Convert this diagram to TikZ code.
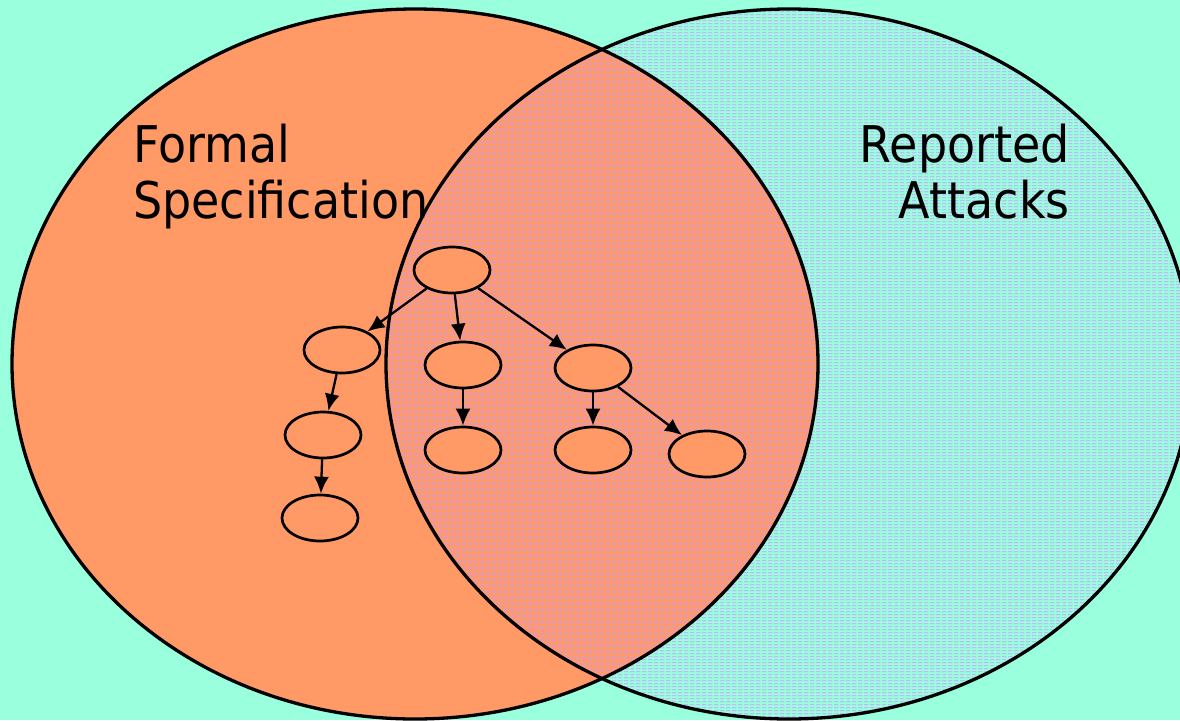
\documentclass[tikz,border=0pt]{standalone}
\usepackage{fontspec}
\setmainfont{DejaVu Sans}
\usetikzlibrary{shapes.geometric,arrows.meta,patterns.meta}

\definecolor{mint}{RGB}{153,255,221}
\definecolor{salmon}{RGB}{255,153,102}
\definecolor{lilac}{RGB}{204,153,255}

% rows of short horizontal dashes, as a fill texture
\pgfdeclarepattern{
  name=dashrows,
  type=uncolored,
  bottom left={\pgfpoint{0pt}{0pt}},
  top right={\pgfpoint{6pt}{3pt}},
  tile size={\pgfpoint{6pt}{3pt}},
  code={
    \pgfpathrectangle{\pgfpoint{0pt}{1pt}}{\pgfpoint{5pt}{1.1pt}}
    \pgfusepath{fill}
  }
}

\tikzset{
  setline/.style={line width=3.3pt, draw=black},
  treenode/.style={ellipse, draw=black, line width=2.7pt, fill=salmon,
    minimum width=76pt, minimum height=46pt, inner sep=0pt},
  treeedge/.style={line width=2.3pt, -{Latex[length=17pt,width=15pt]}},
  setlabel/.style={inner sep=0pt, font=\fontsize{46}{56}\selectfont}
}

\begin{document}
\begin{tikzpicture}[x=1pt,y=-1pt]
  \useasboundingbox (0,0) rectangle (1180,720);
  \clip (0,0) rectangle (1180,720);
  \fill[mint] (0,0) rectangle (1180,720);

  % the two overlapping sets
  \fill[salmon] (415,364) ellipse [x radius=403, y radius=355];
  \fill[pattern=dashrows, pattern color=lilac] (789,364) ellipse [x radius=403, y radius=355];
  \draw[setline] (415,364) ellipse [x radius=403, y radius=355];
  \draw[setline] (789,364) ellipse [x radius=403, y radius=355];

  % set names (base anchor sits on the last line)
  \node[setlabel, align=left, anchor=base west] (formal) at (133,218)
    {\scalebox{1}[1.1]{Formal}\\\scalebox{1}[1.1]{Specification}};
  \node[setlabel, align=right, anchor=base east] (reported) at (1070,218)
    {\scalebox{1}[1.1]{Reported}\\\scalebox{1}[1.1]{Attacks}};

  % attack tree
  \node[treenode] (root) at (452,270) {};
  \node[treenode] (a)    at (342,350) {};
  \node[treenode] (b)    at (463,365) {};
  \node[treenode] (c)    at (593,368) {};
  \node[treenode] (a1)   at (323,435) {};
  \node[treenode] (a2)   at (320,518) {};
  \node[treenode] (b1)   at (463,450) {};
  \node[treenode] (c1)   at (593,450) {};
  \node[treenode] (c2)   at (707,454) {};

  \draw[treeedge] (root) -- (a);
  \draw[treeedge] (root) -- (b);
  \draw[treeedge] (root) -- (c);
  \draw[treeedge] (a) -- (a1);
  \draw[treeedge] (a1) -- (a2);
  \draw[treeedge] (b) -- (b1);
  \draw[treeedge] (c) -- (c1);
  \draw[treeedge] (c) -- (c2);
\end{tikzpicture}
\end{document}
